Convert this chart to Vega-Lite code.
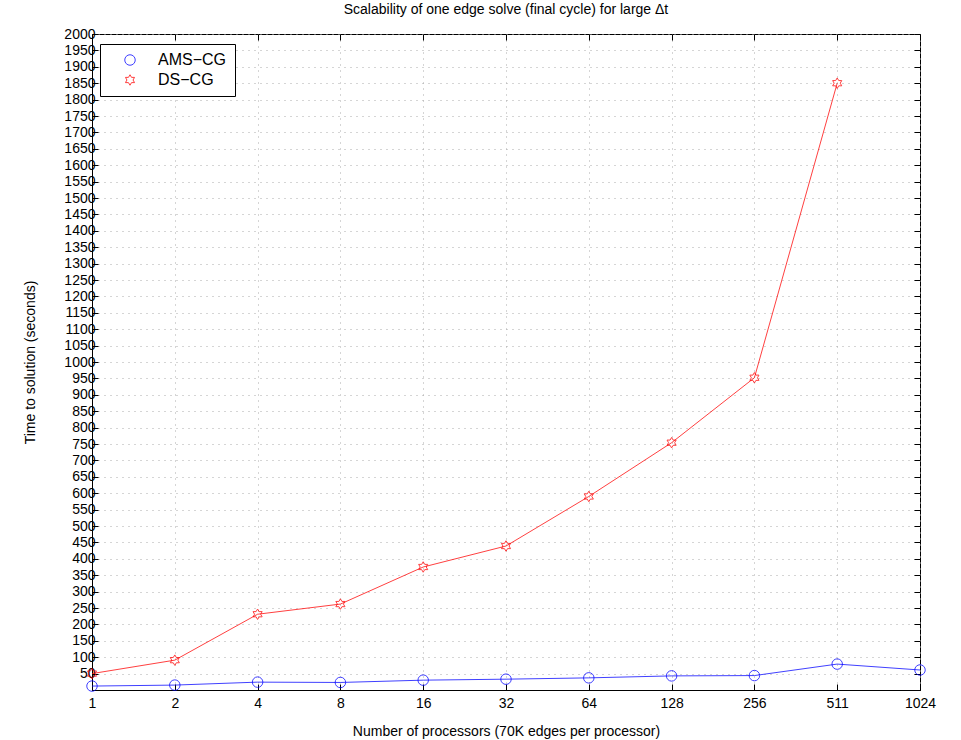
{
  "$schema": "https://vega.github.io/schema/vega-lite/v6.json",
  "width": 828,
  "height": 656,
  "autosize": {"type": "none"},
  "padding": {"left": 92, "top": 34, "right": 41, "bottom": 50},
  "background": "white",
  "title": {"text": "Scalability of one edge solve (final cycle) for large Δt", "font": "Liberation Sans", "fontSize": 14, "fontWeight": "normal", "offset": 10},
  "config": {
    "font": "Liberation Sans",
    "view": {"stroke": "black", "strokeWidth": 1}
  },
  "data": {"values": [
    {"p": "1", "series": "AMS−CG", "t": 12},
    {"p": "2", "series": "AMS−CG", "t": 15},
    {"p": "4", "series": "AMS−CG", "t": 24},
    {"p": "8", "series": "AMS−CG", "t": 23},
    {"p": "16", "series": "AMS−CG", "t": 30},
    {"p": "32", "series": "AMS−CG", "t": 33},
    {"p": "64", "series": "AMS−CG", "t": 37},
    {"p": "128", "series": "AMS−CG", "t": 43},
    {"p": "256", "series": "AMS−CG", "t": 44},
    {"p": "511", "series": "AMS−CG", "t": 79},
    {"p": "1024", "series": "AMS−CG", "t": 61},
    {"p": "1", "series": "DS−CG", "t": 50},
    {"p": "2", "series": "DS−CG", "t": 91},
    {"p": "4", "series": "DS−CG", "t": 231},
    {"p": "8", "series": "DS−CG", "t": 262},
    {"p": "16", "series": "DS−CG", "t": 375},
    {"p": "32", "series": "DS−CG", "t": 439},
    {"p": "64", "series": "DS−CG", "t": 590},
    {"p": "128", "series": "DS−CG", "t": 754},
    {"p": "256", "series": "DS−CG", "t": 952},
    {"p": "511", "series": "DS−CG", "t": 1850}
  ]},
  "resolve": {"axis": {"x": "independent", "y": "independent"}},
  "layer": [
    {
      "mark": {"type": "line", "strokeWidth": 1, "opacity": 0.75},
      "encoding": {
        "x": {"field": "p", "type": "ordinal", "sort": ["1","2","4","8","16","32","64","128","256","511","1024"],
          "scale": {"type": "point", "padding": 0},
          "axis": {"title": "Number of processors (70K edges per processor)", "titleFontSize": 14, "titleFontWeight": "normal", "titlePadding": 14,
            "labelFontSize": 14, "labelAngle": 0, "labelColor": "black", "titleColor": "black", "labelPadding": 12,
            "domain": true, "domainColor": "black", "tickColor": "black", "tickSize": -6,
            "grid": true, "gridDash": [1, 5], "gridColor": "#aaaaaa", "gridWidth": 1}},
        "y": {"field": "t", "type": "quantitative",
          "scale": {"domain": [0, 2000], "nice": false, "zero": true},
          "axis": {"title": "Time to solution (seconds)", "titleFontSize": 14, "titleFontWeight": "normal", "titlePadding": 26,
            "values": [0,50,100,150,200,250,300,350,400,450,500,550,600,650,700,750,800,850,900,950,1000,1050,1100,1150,1200,1250,1300,1350,1400,1450,1500,1550,1600,1650,1700,1750,1800,1850,1900,1950,2000],
            "labelExpr": "datum.value == 0 ? '' : datum.label", "format": "d",
            "labelFontSize": 14, "labelColor": "black", "titleColor": "black", "labelPadding": 3,
            "domain": true, "domainColor": "black", "tickColor": "black", "tickSize": -6,
            "grid": true, "gridDash": [1, 5], "gridColor": "#aaaaaa", "gridWidth": 1}},
        "color": {"field": "series", "type": "nominal", "scale": {"domain": ["AMS−CG", "DS−CG"], "range": ["#0000ff", "#ff0000"]},
          "legend": {"title": null, "orient": "none", "legendX": 8, "legendY": 10, "labelFontSize": 16, "labelColor": "black",
            "strokeColor": "black", "fillColor": "white", "padding": 8, "symbolSize": 110, "symbolStrokeWidth": 1, "rowPadding": 4, "symbolOpacity": 0.75,
            "symbolOffset": 14, "labelOffset": 20,
            "encode": {"symbols": {"update": {"shape": {"signal": "datum.value == 'AMS−CG' ? 'M-2.7,0H2.7M-0.95,0A0.95,0.95 0 1,0 0.95,0A0.95,0.95 0 1,0 -0.95,0' : 'M-2.7,0H2.7M0,-1L0.29,-0.5L0.87,-0.5L0.58,0L0.87,0.5L0.29,0.5L0,1L-0.29,0.5L-0.87,0.5L-0.58,0L-0.87,-0.5L-0.29,-0.5Z'"}, "fill": {"value": "transparent"}}}}}}
      }
    },
    {
      "mark": {"type": "point", "filled": false, "size": 110, "strokeWidth": 1, "opacity": 0.75},
      "encoding": {
        "x": {"field": "p", "type": "ordinal", "sort": ["1","2","4","8","16","32","64","128","256","511","1024"],
          "axis": {"orient": "top", "title": null, "labels": false, "grid": false, "domain": false, "tickColor": "black", "tickSize": -6}},
        "y": {"field": "t", "type": "quantitative",
          "axis": {"orient": "right", "title": null, "labels": false, "grid": false, "domain": false, "tickColor": "black", "tickSize": -6,
            "values": [0,50,100,150,200,250,300,350,400,450,500,550,600,650,700,750,800,850,900,950,1000,1050,1100,1150,1200,1250,1300,1350,1400,1450,1500,1550,1600,1650,1700,1750,1800,1850,1900,1950,2000]}},
        "color": {"field": "series", "type": "nominal", "scale": {"domain": ["AMS−CG", "DS−CG"], "range": ["#0000ff", "#ff0000"]}},
        "shape": {"field": "series", "type": "nominal", "scale": {"domain": ["AMS−CG", "DS−CG"], "range": ["circle", "M0,-1L0.29,-0.5L0.87,-0.5L0.58,0L0.87,0.5L0.29,0.5L0,1L-0.29,0.5L-0.87,0.5L-0.58,0L-0.87,-0.5L-0.29,-0.5Z"]},
          "legend": null}
      }
    }
  ]
}
